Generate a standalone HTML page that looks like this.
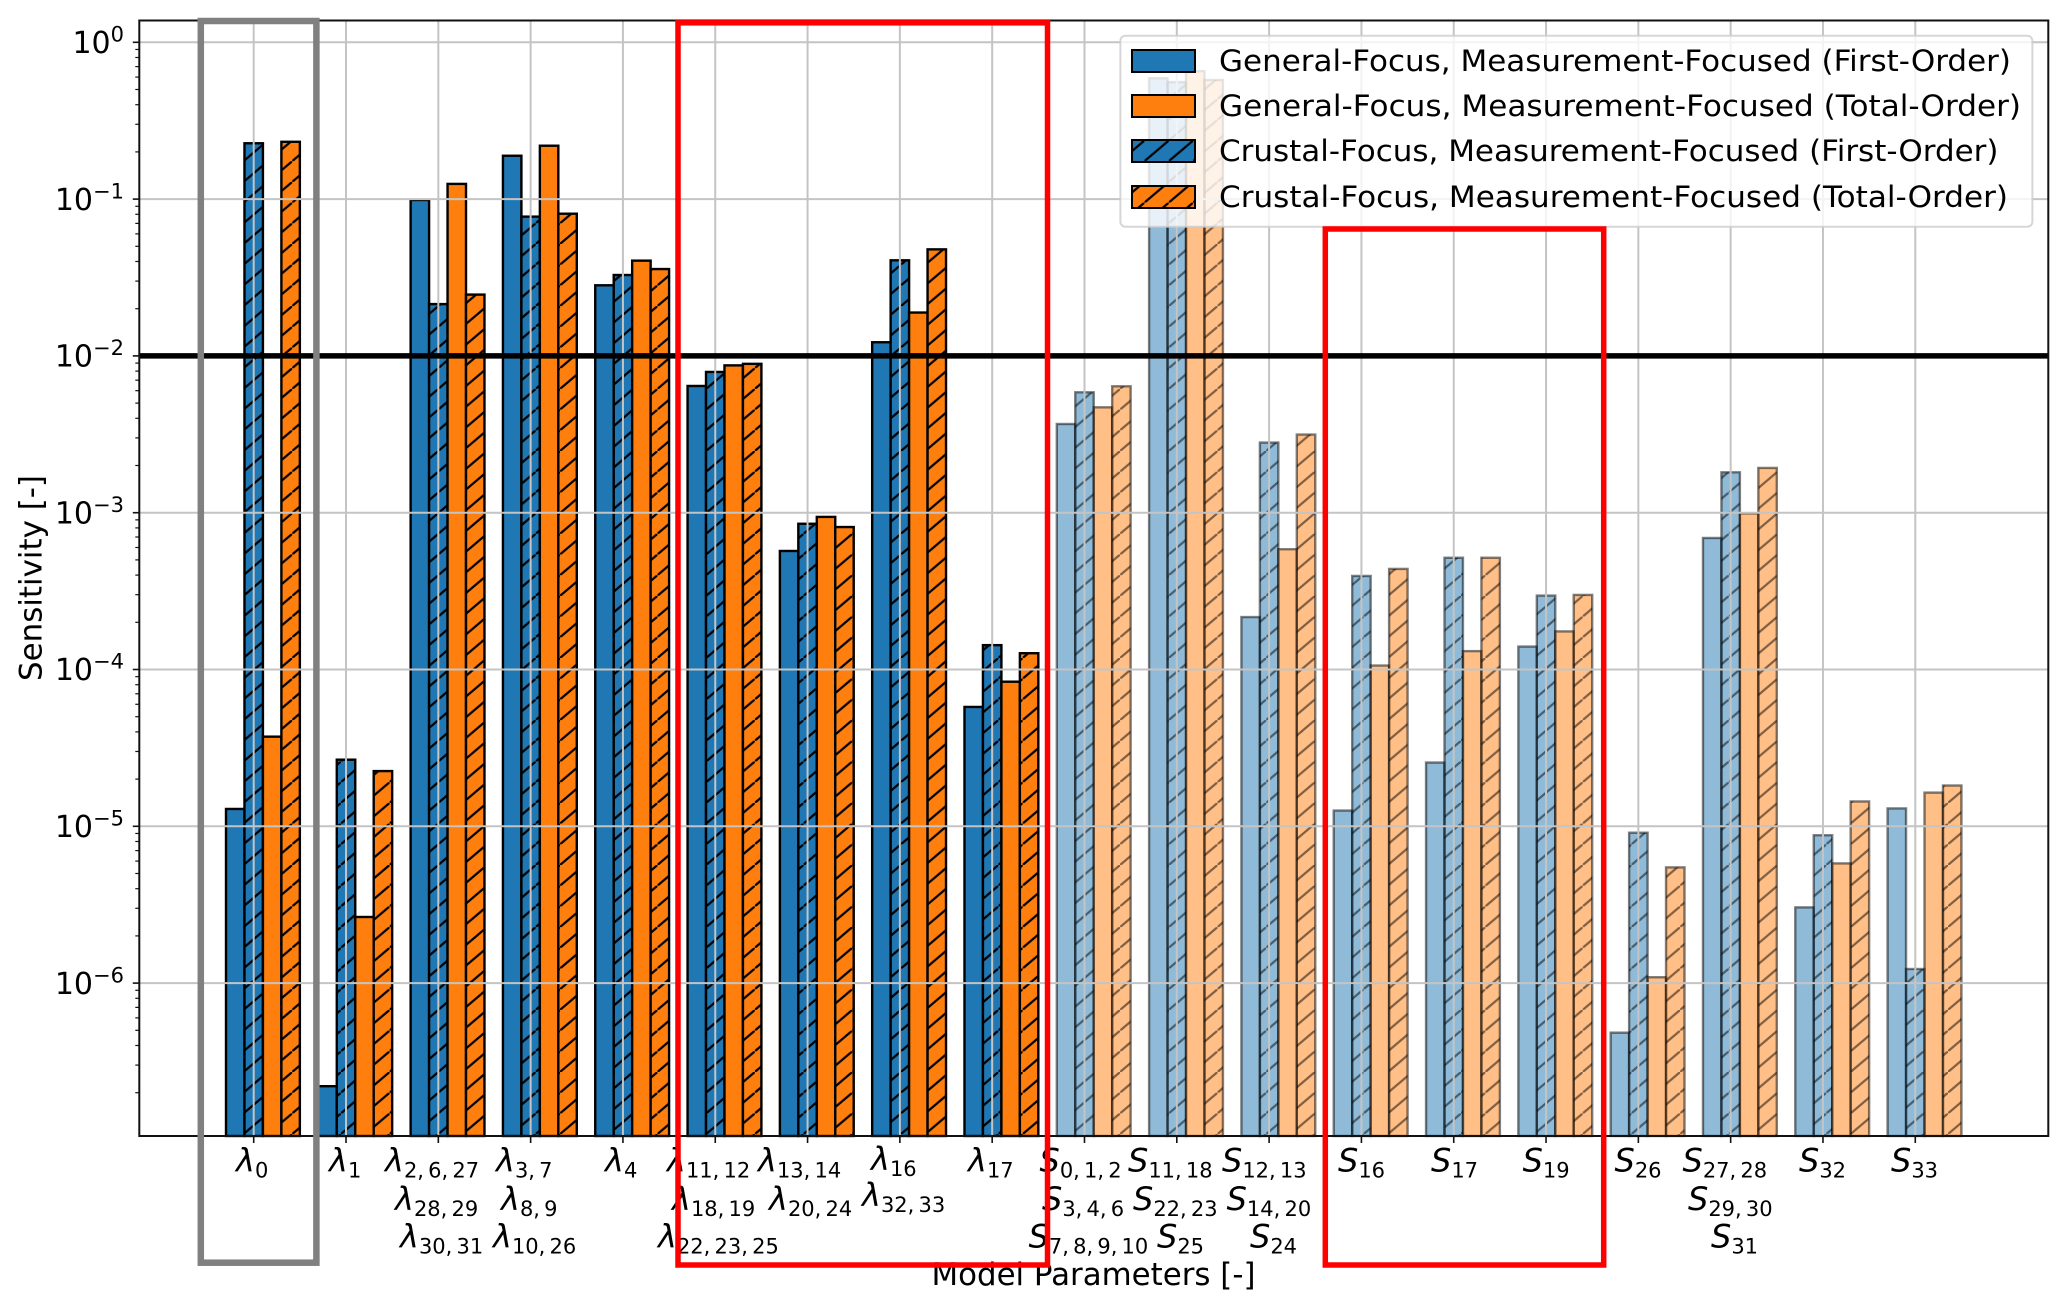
<!DOCTYPE html>
<html lang="en">
<head>
<meta charset="utf-8">
<title>Sensitivity chart</title>
<style>
html,body{margin:0;padding:0;background:#fff;}
svg{display:block;font-family:"DejaVu Sans","Liberation Sans",sans-serif;fill:#000;}
.tl{font-size:32px;}
.tl .g{font-style:italic;}
.tl .sb{font-size:21px;word-spacing:-2.5px;}
.lg{font-size:29px;}
</style>
</head>
<body>
<svg id="chart" xmlns="http://www.w3.org/2000/svg" width="2067" height="1308" viewBox="0 0 2067 1308">
<defs>
<pattern id="hatch-solid" patternUnits="userSpaceOnUse" width="24.35" height="20.7" patternTransform="translate(0,16.3)">
<path d="M-2.435 22.77L2.435 18.63M0 20.7L24.35 0M21.915 2.07L26.785 -2.07" stroke="#000" stroke-width="2.2" fill="none"/>
</pattern>
<pattern id="hatch-faded" patternUnits="userSpaceOnUse" width="24.35" height="20.7" patternTransform="translate(0,16.3)">
<path d="M0 20.7L24.35 0" stroke="#000" stroke-opacity="0.5" stroke-width="2.2" fill="none"/>
</pattern>
</defs>
<rect x="0" y="0" width="2067" height="1308" fill="#fff"/>
<g id="bars"></g>
<g id="grid"></g>
<g id="threshold"></g>
<g id="axes"></g>
<g id="y-labels"></g>

<g>
<text class="tl" x="236" y="1171.7"><tspan class="g">λ</tspan><tspan class="sb" dy="6">0</tspan></text>
<text class="tl" x="329" y="1171.7"><tspan class="g">λ</tspan><tspan class="sb" dy="6">1</tspan></text>
<text class="tl" x="385" y="1171.7"><tspan class="g">λ</tspan><tspan class="sb" dy="6">2, 6, 27</tspan></text>
<text class="tl" x="395" y="1210"><tspan class="g">λ</tspan><tspan class="sb" dy="6">28, 29</tspan></text>
<text class="tl" x="400" y="1247.7"><tspan class="g">λ</tspan><tspan class="sb" dy="6">30, 31</tspan></text>
<text class="tl" x="496" y="1171.7"><tspan class="g">λ</tspan><tspan class="sb" dy="6">3, 7</tspan></text>
<text class="tl" x="501" y="1210"><tspan class="g">λ</tspan><tspan class="sb" dy="6">8, 9</tspan></text>
<text class="tl" x="493" y="1247.7"><tspan class="g">λ</tspan><tspan class="sb" dy="6">10, 26</tspan></text>
<text class="tl" x="605" y="1171.7"><tspan class="g">λ</tspan><tspan class="sb" dy="6">4</tspan></text>
<text class="tl" x="667" y="1171.7"><tspan class="g">λ</tspan><tspan class="sb" dy="6">11, 12</tspan></text>
<text class="tl" x="672" y="1210"><tspan class="g">λ</tspan><tspan class="sb" dy="6">18, 19</tspan></text>
<text class="tl" x="658" y="1247.7"><tspan class="g">λ</tspan><tspan class="sb" dy="6">22, 23, 25</tspan></text>
<text class="tl" x="758" y="1171.7"><tspan class="g">λ</tspan><tspan class="sb" dy="6">13, 14</tspan></text>
<text class="tl" x="769" y="1210"><tspan class="g">λ</tspan><tspan class="sb" dy="6">20, 24</tspan></text>
<text class="tl" x="871" y="1170"><tspan class="g">λ</tspan><tspan class="sb" dy="6">16</tspan></text>
<text class="tl" x="862" y="1206"><tspan class="g">λ</tspan><tspan class="sb" dy="6">32, 33</tspan></text>
<text class="tl" x="968" y="1171.7"><tspan class="g">λ</tspan><tspan class="sb" dy="6">17</tspan></text>
<text class="tl" x="1039.5" y="1171.7"><tspan class="g">S</tspan><tspan class="sb" dy="6">0, 1, 2</tspan></text>
<text class="tl" x="1042" y="1210"><tspan class="g">S</tspan><tspan class="sb" dy="6">3, 4, 6</tspan></text>
<text class="tl" x="1028.6" y="1247.7"><tspan class="g">S</tspan><tspan class="sb" dy="6">7, 8, 9, 10</tspan></text>
<text class="tl" x="1128" y="1171.7"><tspan class="g">S</tspan><tspan class="sb" dy="6">11, 18</tspan></text>
<text class="tl" x="1133" y="1210"><tspan class="g">S</tspan><tspan class="sb" dy="6">22, 23</tspan></text>
<text class="tl" x="1157" y="1247.7"><tspan class="g">S</tspan><tspan class="sb" dy="6">25</tspan></text>
<text class="tl" x="1222" y="1171.7"><tspan class="g">S</tspan><tspan class="sb" dy="6">12, 13</tspan></text>
<text class="tl" x="1226.6" y="1210"><tspan class="g">S</tspan><tspan class="sb" dy="6">14, 20</tspan></text>
<text class="tl" x="1250" y="1247.7"><tspan class="g">S</tspan><tspan class="sb" dy="6">24</tspan></text>
<text class="tl" x="1338" y="1171.7"><tspan class="g">S</tspan><tspan class="sb" dy="6">16</tspan></text>
<text class="tl" x="1431" y="1171.7"><tspan class="g">S</tspan><tspan class="sb" dy="6">17</tspan></text>
<text class="tl" x="1522.6" y="1171.7"><tspan class="g">S</tspan><tspan class="sb" dy="6">19</tspan></text>
<text class="tl" x="1614.5" y="1171.7"><tspan class="g">S</tspan><tspan class="sb" dy="6">26</tspan></text>
<text class="tl" x="1682.5" y="1171.7"><tspan class="g">S</tspan><tspan class="sb" dy="6">27, 28</tspan></text>
<text class="tl" x="1688" y="1210"><tspan class="g">S</tspan><tspan class="sb" dy="6">29, 30</tspan></text>
<text class="tl" x="1711" y="1247.7"><tspan class="g">S</tspan><tspan class="sb" dy="6">31</tspan></text>
<text class="tl" x="1799" y="1171.7"><tspan class="g">S</tspan><tspan class="sb" dy="6">32</tspan></text>
<text class="tl" x="1891" y="1171.7"><tspan class="g">S</tspan><tspan class="sb" dy="6">33</tspan></text>
</g>

<text x="931.5" y="1285" font-size="31" textLength="324" lengthAdjust="spacingAndGlyphs">Model Parameters [-]</text>
<text transform="translate(41.5,681) rotate(-90)" x="0" y="0" font-size="31" textLength="206" lengthAdjust="spacingAndGlyphs">Sensitivity [-]</text>

<g>
<rect x="1120.4" y="35.7" width="912" height="191" rx="5" fill="#fff" fill-opacity="0.8" stroke="#ccc" stroke-opacity="0.8" stroke-width="2"/>
<rect x="1132" y="50" width="63" height="22" fill="#1f77b4" stroke="#000" stroke-width="2"/>
<text class="lg" x="1219" y="71" textLength="792" lengthAdjust="spacingAndGlyphs">General-Focus, Measurement-Focused (First-Order)</text>
<rect x="1132" y="95" width="63" height="22" fill="#ff7f0e" stroke="#000" stroke-width="2"/>
<text class="lg" x="1219" y="116" textLength="802" lengthAdjust="spacingAndGlyphs">General-Focus, Measurement-Focused (Total-Order)</text>
<rect x="1132" y="140" width="63" height="22" fill="#1f77b4"/>
<rect x="1132" y="140" width="63" height="22" fill="url(#hatch-solid)" stroke="#000" stroke-width="2"/>
<text class="lg" x="1219" y="161" textLength="779.5" lengthAdjust="spacingAndGlyphs">Crustal-Focus, Measurement-Focused (First-Order)</text>
<rect x="1132" y="186" width="63" height="22" fill="#ff7f0e"/>
<rect x="1132" y="186" width="63" height="22" fill="url(#hatch-solid)" stroke="#000" stroke-width="2"/>
<text class="lg" x="1219" y="207" textLength="789" lengthAdjust="spacingAndGlyphs">Crustal-Focus, Measurement-Focused (Total-Order)</text>
</g>

<rect x="200.8" y="21" width="115.6" height="1241.7" fill="none" stroke="#808080" stroke-width="6.5"/>
<rect x="678" y="22.8" width="369.5" height="1242.2" fill="none" stroke="#ff0000" stroke-width="5.5"/>
<rect x="1325.3" y="229" width="278.4" height="1036" fill="none" stroke="#ff0000" stroke-width="5.5"/>
</svg>
<script>
// Chart data
const categories = ['λ0','λ1','λ2,6,27','λ3,7','λ4','λ11,12','λ13,14','λ16','λ17','S0,1,2','S11,18','S12,13','S16','S17','S19','S26','S27,28','S32','S33'];
const generalFirst = [1.29e-5,2.2e-7,0.0987,0.189,0.0282,6.43e-3,5.7e-4,0.01222,5.77e-5,3.68e-3,0.59,2.16e-4,1.26e-5,2.55e-5,1.4e-4,4.83e-7,6.9e-4,3.04e-6,1.3e-5];
const crustalFirst = [0.227,2.66e-5,0.0214,0.0773,0.0328,7.9e-3,8.5e-4,0.0407,1.43e-4,5.86e-3,0.558,2.8e-3,3.95e-4,5.16e-4,2.96e-4,9.1e-6,1.81e-3,8.77e-6,1.23e-6];
const generalTotal = [3.73e-5,2.64e-6,0.125,0.219,0.0405,8.7e-3,9.4e-4,0.0189,8.36e-5,4.7e-3,0.655,5.85e-4,1.06e-4,1.31e-4,1.75e-4,1.09e-6,9.9e-4,5.8e-6,1.64e-5];
const crustalTotal = [0.232,2.25e-5,0.0246,0.0807,0.0358,8.9e-3,8.1e-4,0.0478,1.27e-4,6.4e-3,0.575,3.15e-3,4.38e-4,5.16e-4,2.99e-4,5.47e-6,1.93e-3,1.44e-5,1.82e-5];
const yTickExponents = [0,-1,-2,-3,-4,-5,-6];
const yTickLabelExponents = ['0','−1','−2','−3','−4','−5','−6'];
const thresholdValue = 0.01;

// Plot frame and axis functions
const NS = 'http://www.w3.org/2000/svg';
const plotLeft = 139.3, plotRight = 2048.3, plotTop = 20.5, plotBottom = 1136;
const firstTickX = 253.7, tickStep = 92.31, barWidth = 18.46;
const yZero = 42.3, yDecade = 156.8;
function xAxis(index){ return firstTickX + index * tickStep; }
function yAxis(value){ return yZero - yDecade * Math.log10(value); }
function make(tag, parent, attrs){
  const el = document.createElementNS(NS, tag);
  for (const key in attrs) el.setAttribute(key, attrs[key]);
  parent.appendChild(el);
  return el;
}

// Bars
const barLayer = document.getElementById('bars');
const seriesValues = [generalFirst, crustalFirst, generalTotal, crustalTotal];
const seriesSlugs = ['general-first','crustal-first','general-total','crustal-total'];
const seriesFills = ['#1f77b4','#1f77b4','#ff7f0e','#ff7f0e'];
const seriesHatched = [false,true,false,true];
seriesValues.forEach(function(values, s){
  values.forEach(function(value, i){
    const faded = categories[i].charAt(0) === 'S';
    const left = xAxis(i) + (s - 1.5) * barWidth;
    const top = yAxis(value);
    const bar = make('rect', barLayer, {x:left, y:top, width:barWidth, height:plotBottom-top, fill:seriesFills[s], 'fill-opacity':faded?0.5:1, stroke:'#000', 'stroke-opacity':faded?0.5:1, 'stroke-width':2.4});
    
    
    if (seriesHatched[s]) {
      const hatch = make('rect', barLayer, {x:left, y:top, width:barWidth, height:plotBottom-top, fill:faded?'url(#hatch-faded)':'url(#hatch-solid)'});
      
      
    }
  });
});

// Grid
const gridLayer = document.getElementById('grid');
categories.forEach(function(name, i){
  const line = make('line', gridLayer, {x1:xAxis(i), x2:xAxis(i), y1:plotTop, y2:plotBottom, stroke:'#c4c4c4', 'stroke-width':2});
  
  
});
yTickExponents.forEach(function(exp){
  const y = yAxis(Math.pow(10, exp));
  const line = make('line', gridLayer, {x1:plotLeft, x2:plotRight, y1:y, y2:y, stroke:'#c4c4c4', 'stroke-width':2});
  
  
});

// Threshold line
const thresholdLine = make('line', document.getElementById('threshold'), {x1:plotLeft, x2:plotRight, y1:yAxis(thresholdValue), y2:yAxis(thresholdValue), stroke:'#000', 'stroke-width':5.5});



// Axes: frame and ticks
const axisLayer = document.getElementById('axes');
const frame = make('rect', axisLayer, {x:plotLeft, y:plotTop, width:plotRight-plotLeft, height:plotBottom-plotTop, fill:'none', stroke:'#111', 'stroke-width':2});


categories.forEach(function(name, i){
  const tick = make('line', axisLayer, {x1:xAxis(i), x2:xAxis(i), y1:plotBottom, y2:plotBottom+7, stroke:'#111', 'stroke-width':1.6});
  
  
});
yTickExponents.forEach(function(exp){
  const y = yAxis(Math.pow(10, exp));
  const major = make('line', axisLayer, {x1:plotLeft-6.5, x2:plotLeft, y1:y, y2:y, stroke:'#111', 'stroke-width':1.6});
  
  
});
for (let exp = -7; exp <= 0; exp++) {
  for (let m = 2; m <= 9; m++) {
    const y = yAxis(m * Math.pow(10, exp));
    if (y > plotBottom || y < plotTop) continue;
    const minor = make('line', axisLayer, {x1:plotLeft-4, x2:plotLeft, y1:y, y2:y, stroke:'#111', 'stroke-width':1.2});
    
    
  }
}

// Y tick labels
const yLabelLayer = document.getElementById('y-labels');
yTickExponents.forEach(function(exp, i){
  const y = yAxis(Math.pow(10, exp));
  const label = make('text', yLabelLayer, {x:124, y:y+10.7, 'text-anchor':'end', 'font-size':30});
  
  
  const base = make('tspan', label, {});
  base.textContent = '10';
  const power = make('tspan', label, {dy:-11.5, 'font-size':21});
  power.textContent = yTickLabelExponents[i];
});
</script>
</body>
</html>
